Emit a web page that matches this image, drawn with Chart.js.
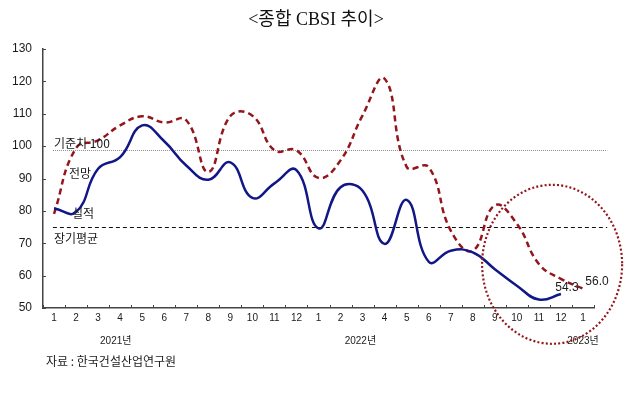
<!DOCTYPE html>
<html>
<head>
<meta charset="utf-8">
<script src="https://cdn.jsdelivr.net/npm/chart.js@4.4.0/dist/chart.umd.min.js"></script>
<style>
  html, body { margin: 0; padding: 0; background: #fff; }
</style>
</head>
<body>
<canvas id="cbsi" width="640" height="397"></canvas>
<script>
// months Jan 2021 .. Jan 2023
const MONTHS = ['1','2','3','4','5','6','7','8','9','10','11','12',
                '1','2','3','4','5','6','7','8','9','10','11','12','1'];
// 실적 (actual)
const ACTUAL = [80.8, 79.6, 93.0, 96.6, 106.4, 101.5, 94.0, 89.6, 95.0, 84.0, 88.5, 92.6,
                74.6, 87.3, 86.2, 69.8, 83.4, 64.3, 67.7, 67.2, 62.0, 56.9, 52.6, 54.3, null];
// 전망 (outlook)
const OUTLOOK = [79.1, 99.4, 101.8, 106.4, 109.2, 107.3, 108.0, 92.0, 109.3, 109.4, 98.7, 98.7,
                 90.2, 95.6, 109.5, 120.8, 93.6, 93.5, 73.9, 67.7, 81.7, 76.0, 63.6, 59.0, 56.0];
const Y_MIN = 50, Y_MAX = 130, Y_STEP = 10;
const YEARS = ['2021년', '2022년', '2023년'];
const YEAR_POS = [2.8, 13.9, 24];
const BASELINE_LINE = 98.9;   // 기준치 100 line as drawn
const LONG_AVG = 75;          // 장기평균

const NAVY = '#121787';
const DARK_RED = '#93161c';
const TEXT = '#1a1a1a';
const SANS = '"Liberation Sans", Arial, "Noto Sans CJK KR", sans-serif';
const KR = '"Noto Sans CJK KR", "Liberation Sans", sans-serif';

const extras = {
    id: 'extras',
    beforeDatasetsDraw(chart) {
        const { ctx, scales: { x, y } } = chart;
        const x0 = x.getPixelForValue(-0.05);
        const x1 = x.getPixelForValue(25.1);
        ctx.save();
        ctx.lineWidth = 1;
        // 기준치 line
        let py = Math.round(y.getPixelForValue(BASELINE_LINE)) + 0.5;
        ctx.strokeStyle = '#8c8c8c';
        ctx.setLineDash([1, 1]);
        ctx.beginPath(); ctx.moveTo(x0, py); ctx.lineTo(x1, py); ctx.stroke();
        // 장기평균 line
        py = Math.round(y.getPixelForValue(LONG_AVG)) + 0.5;
        ctx.strokeStyle = '#111';
        ctx.setLineDash([4, 3]);
        ctx.beginPath(); ctx.moveTo(x0, py); ctx.lineTo(x1, py); ctx.stroke();
        ctx.restore();
    },
    afterDatasetsDraw(chart) {
        const { ctx, scales: { x, y } } = chart;
        ctx.save();

        // title
        ctx.fillStyle = '#111';
        ctx.textAlign = 'center';
        ctx.textBaseline = 'middle';
        ctx.font = '18px "Liberation Serif", "Noto Sans CJK KR", serif';
        ctx.fillText('<종합 CBSI 추이>', 316, 20);

        // series / reference labels
        ctx.textAlign = 'left';
        ctx.font = '12px ' + KR;
        ctx.fillStyle = TEXT;
        ctx.fillText('기준치 100', 54, 143);
        ctx.fillText('전망', 69, 173);
        ctx.fillText('실적', 72, 213);
        ctx.fillText('장기평균', 54, 238);

        // end value labels
        ctx.font = '12px ' + SANS;
        ctx.textAlign = 'center';
        const ia = 23, io = 24;
        ctx.fillText(ACTUAL[ia].toFixed(1), x.getPixelForValue(ia) + 6, y.getPixelForValue(ACTUAL[ia]) - 6);
        ctx.fillText(OUTLOOK[io].toFixed(1), x.getPixelForValue(io) + 14, y.getPixelForValue(OUTLOOK[io]) - 7);

        // year labels
        ctx.font = '10px ' + SANS;
        YEARS.forEach((t, i) => ctx.fillText(t, x.getPixelForValue(YEAR_POS[i]), 341));

        // source
        ctx.textAlign = 'left';
        ctx.font = '12px ' + KR;
        ctx.fillText('자료 : 한국건설산업연구원', 46, 361);

        // highlight ellipse
        const cx = x.getPixelForValue(22.6), cy = y.getPixelForValue(63.5);
        ctx.strokeStyle = DARK_RED;
        ctx.lineWidth = 2.2;
        ctx.setLineDash([2, 2.2]);
        ctx.beginPath();
        ctx.ellipse(cx, cy, 70, 79.5, 0, 0, Math.PI * 2);
        ctx.stroke();
        ctx.restore();
    },
    afterDraw(chart) {
        // inward tick marks
        const { ctx, scales: { x, y }, chartArea } = chart;
        ctx.save();
        ctx.strokeStyle = '#444';
        ctx.lineWidth = 1;
        for (let v = Y_MIN; v <= Y_MAX; v += Y_STEP) {
            const py = Math.round(y.getPixelForValue(v)) + 0.5;
            ctx.beginPath(); ctx.moveTo(chartArea.left, py); ctx.lineTo(chartArea.left + 3, py); ctx.stroke();
        }
        for (let i = 0; i <= MONTHS.length; i++) {
            const px = Math.round(x.getPixelForValue(i - 0.5)) + 0.5;
            ctx.beginPath(); ctx.moveTo(px, chartArea.bottom); ctx.lineTo(px, chartArea.bottom - 3); ctx.stroke();
        }
        ctx.restore();
    }
};

new Chart(document.getElementById('cbsi'), {
    type: 'line',
    data: {
        labels: MONTHS,
        datasets: [{
            label: '실적',
            data: ACTUAL,
            borderColor: NAVY,
            borderWidth: 2.5,
            tension: 0.45,
            pointRadius: 0,
            fill: false
        }, {
            label: '전망',
            data: OUTLOOK,
            borderColor: DARK_RED,
            borderWidth: 2.5,
            borderDash: [6, 4],
            tension: 0.45,
            pointRadius: 0,
            fill: false
        }]
    },
    options: {
        responsive: false,
        devicePixelRatio: 1,
        animation: false,
        layout: { padding: { left: 0, right: 46, top: 49, bottom: 0 } },
        plugins: { legend: { display: false }, tooltip: { enabled: false } },
        scales: {
            x: {
                offset: true,
                grid: { display: false, drawTicks: false },
                border: { color: '#444', width: 1.5 },
                ticks: { color: TEXT, font: { family: SANS, size: 10 }, padding: 4, maxRotation: 0, autoSkip: false },
                afterFit(scale) { scale.height = 89; }
            },
            y: {
                min: Y_MIN,
                max: Y_MAX,
                grid: { display: false, drawTicks: false },
                border: { color: '#444', width: 1.5 },
                ticks: { stepSize: Y_STEP, color: TEXT, font: { family: SANS, size: 12 }, padding: 11 },
                afterFit(scale) { scale.width = 43; }
            }
        }
    },
    plugins: [extras]
});
</script>
</body>
</html>
